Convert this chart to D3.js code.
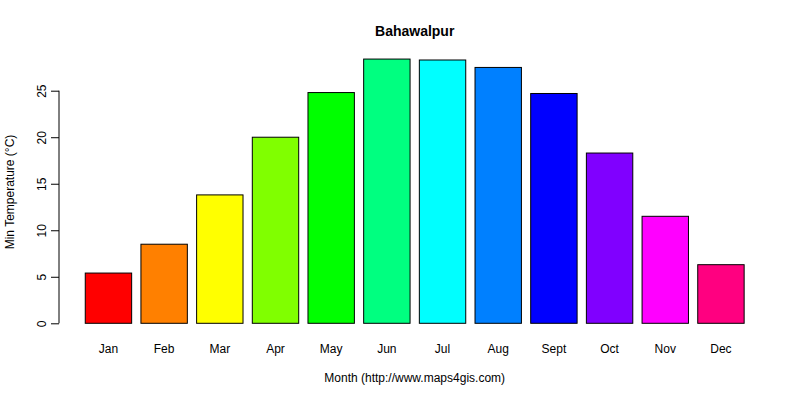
<!DOCTYPE html>
<html><head><meta charset="utf-8">
<script src="https://cdn.jsdelivr.net/npm/d3@7"></script>
<style>body{margin:0;background:#fff}svg{font-family:"Liberation Sans",Arial,sans-serif}</style>
</head><body>
<svg id="c" width="800" height="400"></svg>
<script>
const months = ["Jan","Feb","Mar","Apr","May","Jun","Jul","Aug","Sept","Oct","Nov","Dec"];
const minTemp = [5.4, 8.5, 13.8, 20.0, 24.8, 28.4, 28.3, 27.5, 24.7, 18.3, 11.5, 6.3];
const colors = ["#FF0000","#FF8000","#FFFF00","#80FF00","#00FF00","#00FF80","#00FFFF","#0080FF","#0000FF","#8000FF","#FF00FF","#FF0080"];
const yTicks = [0,5,10,15,20,25];

const svg = d3.select("#c");
// R barplot geometry: width 1, space 0.2
const n = months.length;
const xl = 0.2, xr = n*1.2;
const ext = (xr - xl)*0.04;
const x = d3.scaleLinear().domain([xl-ext, xr+ext]).range([58.9, 770.5]);
const y = d3.scaleLinear().domain([0,25]).range([323.3, 90.7]);

svg.selectAll("rect.bar").data(minTemp).enter().append("rect")
  .attr("class","bar")
  .attr("x",(d,i)=>x(0.2+i*1.2))
  .attr("width",(d,i)=>x(1.2+i*1.2)-x(0.2+i*1.2))
  .attr("y",d=>y(d))
  .attr("height",d=>y(0)-y(d))
  .attr("fill",(d,i)=>colors[i])
  .attr("stroke","#000").attr("stroke-width",1);

// y axis
const ax = svg.append("g").attr("transform","translate(59,0)")
  .call(d3.axisLeft(y).tickValues(yTicks).tickSize(8).tickPadding(0).tickFormat(d3.format("d")));
ax.select(".domain").attr("d",`M-0,${y(0)}V${y(25)}`).attr("stroke","#000");
ax.selectAll(".tick line").attr("stroke","#000");
ax.selectAll(".tick text").attr("font-size",12).attr("fill","#000")
  .attr("transform","translate(-17,0) rotate(-90)").attr("x",0).attr("dy","0.35em").attr("text-anchor","middle");

// x labels
svg.selectAll("text.xl").data(months).enter().append("text")
  .attr("class","xl")
  .attr("x",(d,i)=>x(0.7+i*1.2)).attr("y",353)
  .attr("text-anchor","middle").attr("font-size",12).text(d=>d);

svg.append("text").attr("x",414.7).attr("y",36).attr("text-anchor","middle")
  .attr("font-size",14).attr("font-weight","bold").text("Bahawalpur");
svg.append("text").attr("x",414.7).attr("y",382).attr("text-anchor","middle")
  .attr("font-size",12).text("Month (http://www.maps4gis.com)");
svg.append("text").attr("transform",`translate(14,192) rotate(-90)`)
  .attr("text-anchor","middle").attr("font-size",12).text("Min Temperature (°C)");
</script>
</body></html>
